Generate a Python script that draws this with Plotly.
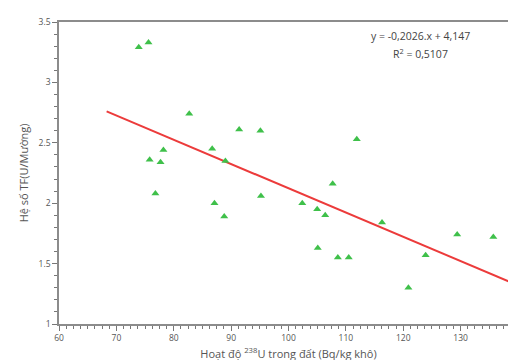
import plotly.graph_objects as go

# Data
u238_activity = [73.9, 75.6, 75.8, 77.7, 78.2, 76.8, 82.7, 86.7, 87.1, 88.8, 89.0,
                 91.4, 95.1, 95.2, 102.4, 105.0, 105.1, 106.4, 107.7, 108.6, 110.5,
                 111.9, 116.3, 120.9, 123.9, 129.4, 135.7]
tf_values = [3.29, 3.33, 2.36, 2.34, 2.44, 2.08, 2.74, 2.45, 2.00, 1.89, 2.35,
             2.61, 2.60, 2.06, 2.00, 1.95, 1.63, 1.90, 2.16, 1.55, 1.55,
             2.53, 1.84, 1.30, 1.57, 1.74, 1.72]
trend_x = [68.3, 140.0]
trend_y = [2.76, 1.32]
x_range = [60, 140]
y_range = [1, 3.5]
eq_text = "y = -0,2026.x + 4,147"
r2_text = "R<sup>2</sup> = 0,5107"

fig = go.Figure()
fig.add_trace(go.Scatter(
    x=trend_x, y=trend_y, mode="lines",
    line=dict(color="#ec3b3b", width=2), showlegend=False, hoverinfo="skip"))
fig.add_trace(go.Scatter(
    x=u238_activity, y=tf_values, mode="markers",
    marker=dict(symbol="triangle-up", size=7, color="#3fc04a"),
    showlegend=False))

fig.add_annotation(x=0.788, y=0.955, xref="paper", yref="paper",
                   xanchor="center", yanchor="middle",
                   text=eq_text, showarrow=False,
                   font=dict(family="Open Sans", size=10.5, color="#444"))
fig.add_annotation(x=0.788, y=0.895, xref="paper", yref="paper",
                   xanchor="center", yanchor="middle",
                   text=r2_text, showarrow=False,
                   font=dict(family="Open Sans", size=10.5, color="#444"))

axis_common = dict(showline=True, linecolor="#8c8c8c", linewidth=1.5, mirror=True,
                   showgrid=False, zeroline=False, ticks="outside",
                   tickcolor="#777", ticklen=5, tickwidth=1.2,
                   tickfont=dict(family="Open Sans", size=8.5, color="#555"))

fig.update_xaxes(range=x_range, tickmode="linear", tick0=60, dtick=10,
                 minor=dict(ticks="outside", dtick=1.25, ticklen=3,
                            tickcolor="#777", tickwidth=1),
                 title=dict(text="Hoạt độ <sup>238</sup>U trong đất (Bq/kg khô)",
                            font=dict(family="Open Sans", size=11, color="#555"),
                            standoff=8),
                 **axis_common)
fig.update_yaxes(range=y_range, tickmode="linear", tick0=1, dtick=0.5,
                 minor=dict(ticks="outside", dtick=0.1, ticklen=3,
                            tickcolor="#777", tickwidth=1),
                 title=dict(text="Hệ số TF(U/Mường)",
                            font=dict(family="Open Sans", size=11, color="#555"),
                            standoff=8),
                 **axis_common)

fig.update_layout(width=516, height=360,
                  margin=dict(l=51, r=4, t=14, b=44),
                  paper_bgcolor="white", plot_bgcolor="white")

fig.write_html("out.html")
